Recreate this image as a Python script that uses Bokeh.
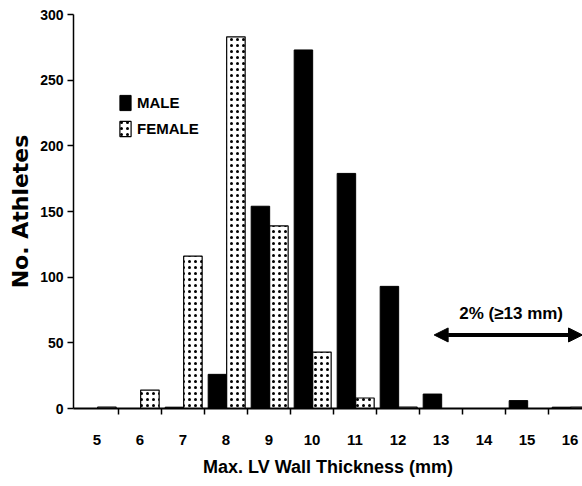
from bokeh.plotting import figure
from bokeh.models import (ColumnDataSource, FixedTicker, Legend, LegendItem,
                          Arrow, NormalHead, Label)
from bokeh.embed import file_html
from bokeh.resources import INLINE

# ---- data ----
thickness = [5, 6, 7, 8, 9, 10, 11, 12, 13, 14, 15, 16]
male = [0, 0, 1, 26, 154, 273, 179, 93, 11, 0, 6, 1]
female = [1, 14, 116, 283, 139, 43, 8, 1, 0, 0, 0, 1]
y_ticks = [0, 50, 100, 150, 200, 250, 300]
annotation_text = "2% (\u226513 mm)"
x_title = "Max. LV Wall Thickness (mm)"
y_title = "No. Athletes"

FONT = "Liberation Sans"

male_x = [t - 0.2 for t in thickness]
female_x = [t + 0.23 for t in thickness]
src = ColumnDataSource(dict(male_x=male_x, female_x=female_x,
                            male=male, female=female))

p = figure(width=582, height=486, output_backend="svg", toolbar_location=None,
           x_range=(4.453, 16.29), y_range=(0, 300),
           min_border_left=73, min_border_right=0, min_border_top=14,
           min_border_bottom=78)
p.outline_line_color = None
p.xgrid.visible = False
p.ygrid.visible = False

rm = p.vbar(x="male_x", top="male", width=0.43, source=src,
            fill_color="black", line_color="black", line_width=1)
rf = p.vbar(x="female_x", top="female", width=0.43, source=src,
            fill_color="white", line_color="black", line_width=1.2,
            hatch_pattern="dot", hatch_color="black", hatch_scale=6,
            hatch_weight=0.8)

legend = Legend(items=[LegendItem(label="MALE", renderers=[rm]),
                       LegendItem(label="FEMALE", renderers=[rf])],
                location=(45, 270), glyph_width=14, glyph_height=19,
                label_height=19, spacing=7, padding=0, margin=0,
                label_standoff=5, border_line_color=None,
                background_fill_alpha=0,
                label_text_font=FONT, label_text_font_style="bold",
                label_text_font_size="15px", label_text_color="black")
p.add_layout(legend)

# arrow annotation
p.add_layout(Arrow(x_start=12.84, y_start=56, x_end=16.29, y_end=56,
                   line_width=4, line_color="black",
                   start=NormalHead(size=14, fill_color="black", line_color="black"),
                   end=NormalHead(size=14, fill_color="black", line_color="black")))
p.add_layout(Label(x=14.63, y=72, text=annotation_text, text_align="center",
                   text_baseline="middle", text_font=FONT,
                   text_font_style="bold", text_font_size="17px",
                   text_color="black"))

# x axis
xa = p.xaxis[0]
xa.ticker = FixedTicker(ticks=thickness,
                        minor_ticks=[t + 0.5 for t in thickness])
xa.major_tick_out = 0
xa.major_tick_in = 0
xa.minor_tick_out = 6
xa.minor_tick_in = 0
xa.minor_tick_line_color = "black"
xa.minor_tick_line_width = 1.5
xa.axis_line_color = "black"
xa.axis_line_width = 1.8
xa.major_label_standoff = 20
xa.major_label_text_font = FONT
xa.major_label_text_font_style = "bold"
xa.major_label_text_font_size = "15px"
xa.major_label_text_color = "black"
xa.axis_label = x_title
xa.axis_label_text_font = FONT
xa.axis_label_text_font_style = "bold"
xa.axis_label_text_font_size = "18px"
xa.axis_label_text_color = "black"
xa.axis_label_standoff = 9

# y axis
ya = p.yaxis[0]
ya.ticker = FixedTicker(ticks=y_ticks, minor_ticks=[])
ya.major_tick_out = 6
ya.major_tick_in = 0
ya.major_tick_line_width = 1.5
ya.axis_line_color = "black"
ya.axis_line_width = 1.5
ya.major_label_standoff = 4
ya.major_label_text_font = FONT
ya.major_label_text_font_style = "bold"
ya.major_label_text_font_size = "14px"
ya.major_label_text_color = "black"
ya.axis_label = y_title
ya.axis_label_text_font = "DejaVu Sans"
ya.axis_label_text_font_style = "bold"
ya.axis_label_text_font_size = "22px"
ya.axis_label_text_color = "black"
ya.axis_label_standoff = 4

open("out.html", "w").write(file_html(p, INLINE))
